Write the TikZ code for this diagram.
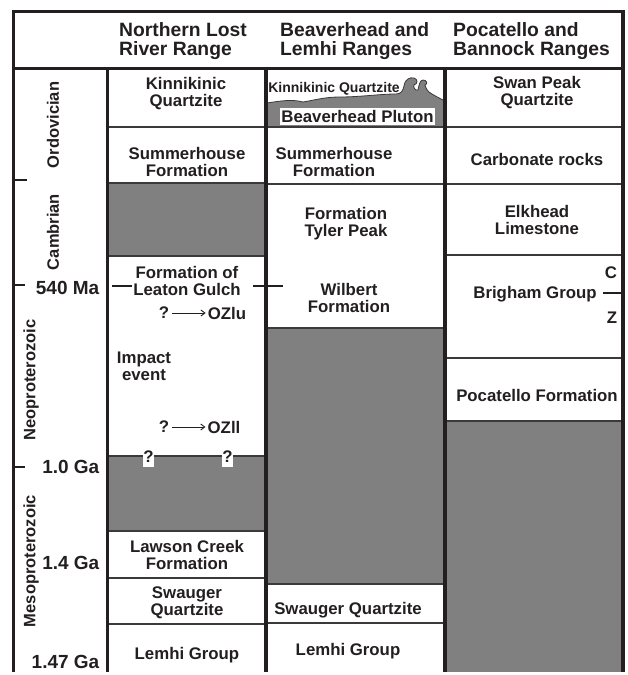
\documentclass[tikz,border=0pt]{standalone}
\usepackage{fontspec}
\setmainfont{Liberation Sans}
\usetikzlibrary{arrows.meta}
\definecolor{unitgray}{HTML}{808080}
\definecolor{ruledark}{HTML}{3A3A3A}
\definecolor{inkblack}{HTML}{231F20}

\begin{document}
\begin{tikzpicture}[x=1pt, y=-1pt, inkblack,
  unit/.style={font=\fontsize{16.8}{17}\selectfont\bfseries, align=center, inner sep=0pt},
  smallunit/.style={font=\fontsize{14}{14}\selectfont\bfseries, inner sep=0pt},
  rangehead/.style={font=\fontsize{19.3}{19.5}\selectfont\bfseries, align=left, anchor=west, inner sep=0pt},
  agelabel/.style={font=\fontsize{19}{19}\selectfont\bfseries, anchor=east, inner sep=0pt},
  periodlabel/.style={font=\fontsize{16.5}{17}\selectfont\bfseries, rotate=90, inner sep=0pt},
  frameline/.style={line width=3.3pt},
  rowline/.style={line width=1.4pt, ruledark},
  tickline/.style={line width=1.1pt},
  querybox/.style={unit, fill=white, minimum width=11pt, minimum height=20pt},
  fedto/.style={line width=0.9pt, -{Straight Barb[length=4pt, width=6pt]}, shorten <=3pt, shorten >=2pt}]

\useasboundingbox (0,0) rectangle (628,675);

\fill[unitgray] (107,183) rectangle (266,256);
\fill[unitgray] (107,456) rectangle (266,531);
\fill[unitgray] (266,328) rectangle (445,584);
\fill[unitgray] (445,421) rectangle (623,672);
\draw[rowline, line width=0.8pt, fill=unitgray] (267,103)
  .. controls (280,101) and (292,99) .. (303,102)
  .. controls (315,100) and (325,97) .. (340,97)
  .. controls (360,97) and (380,94) .. (396,94)
  .. controls (401,94) and (403,91) .. (404,86)
  .. controls (405,79) and (410,77) .. (414,78)
  .. controls (418,79) and (418,84) .. (414,85)
  .. controls (413,87) and (415,91) .. (418,90)
  .. controls (419,85) and (420,80) .. (423,80)
  .. controls (427,80) and (428,84) .. (425,85)
  .. controls (426,89) and (428,92) .. (432,94)
  .. controls (437,97) and (441,99) .. (445,101)
  -- (445,127) -- (267,127) -- cycle;

\draw[rowline] (107,127) -- (266,127);
\draw[rowline] (107,183) -- (266,183);
\draw[rowline] (107,256) -- (266,256);
\draw[rowline] (107,456) -- (266,456);
\draw[rowline] (107,531) -- (266,531);
\draw[rowline] (107,578) -- (266,578);
\draw[rowline] (107,624) -- (266,624);
\draw[rowline] (266,127) -- (445,127);
\draw[rowline] (266,184) -- (445,184);
\draw[rowline] (266,328) -- (445,328);
\draw[rowline] (266,584) -- (445,584);
\draw[rowline] (266,623) -- (445,623);
\draw[rowline] (445,127) -- (623,127);
\draw[rowline] (445,184) -- (623,184);
\draw[rowline] (445,255) -- (623,255);
\draw[rowline] (445,358) -- (623,358);
\draw[rowline] (445,421) -- (623,421);

\draw[frameline] (13.5,672) -- (13.5,11.5) -- (623,11.5) -- (623,672);
\draw[frameline] (13.5,68.5) -- (623,68.5);
\draw[frameline] (107.5,68.5) -- (107.5,672);
\draw[frameline] (266,68.5) -- (266,672);
\draw[frameline] (445,68.5) -- (445,672);

\draw[tickline] (13.5,180) -- (27,180);
\draw[tickline] (13.5,285) -- (25,285);
\draw[tickline] (13.5,467) -- (25,467);
\draw[line width=1.5pt] (112,286) -- (132,286);
\draw[line width=1.5pt] (253,286) -- (283,286);
\draw[tickline] (603,293) -- (622,293);

\draw (119, 41) node[rangehead] (northern) {Northern Lost\\River Range};
\draw (280, 41) node[rangehead] (beaverhead) {Beaverhead and\\Lemhi Ranges};
\draw (453, 41) node[rangehead] (pocatello) {Pocatello and\\Bannock Ranges};

\draw (53, 125) node[periodlabel] (ordovician) {Ordovician};
\draw (53, 232) node[periodlabel] (cambrian) {Cambrian};
\draw (31, 380) node[periodlabel] (neoproterozoic) {Neoproterozoic};
\draw (31, 561) node[periodlabel] (mesoproterozoic) {Mesoproterozoic};
\draw (99.5, 288) node[agelabel] (ma540) {540 Ma};
\draw (99.5, 467) node[agelabel] (ga10) {1.0 Ga};
\draw (99.5, 563) node[agelabel] (ga14) {1.4 Ga};
\draw (99.5, 662) node[agelabel] (ga147) {1.47 Ga};

\draw (186, 94) node[unit] (kinnikinicA) {Kinnikinic\\Quartzite};
\draw (187, 162) node[unit] (summerhouseA) {Summerhouse\\Formation};
\draw (187, 281) node[unit] (leaton) {Formation of\\Leaton Gulch};
\draw (164, 313) node[unit] (queryU) {?};
\draw (227, 313) node[unit] (ozlu) {OZlu};
\draw (144, 366) node[unit] (impact) {Impact\\event};
\draw (164, 427) node[unit] (queryL) {?};
\draw (224, 427) node[unit] (ozll) {OZll};
\draw (148.5, 457) node[querybox] (gapA) {?};
\draw (227.5, 457) node[querybox] (gapB) {?};
\draw (187, 555) node[unit] (lawson) {Lawson Creek\\Formation};
\draw (187, 603) node[unit] (swaugerA) {Swauger\\Quartzite};
\draw (187, 655) node[unit] (lemhiA) {Lemhi Group};

\draw (334, 89) node[smallunit] (kinnikinicB) {Kinnikinic Quartzite};
\draw (357.5, 116.5) node[unit, fill=white, minimum width=155pt, minimum height=17pt] (pluton) {Beaverhead Pluton};
\draw (334, 162) node[unit] (summerhouseB) {Summerhouse\\Formation};
\draw (346, 223.5) node[unit] (tyler) {Formation\\Tyler Peak};
\draw (349, 298) node[unit] (wilbert) {Wilbert\\Formation};
\draw (348, 610) node[unit] (swaugerB) {Swauger Quartzite};
\draw (348, 651) node[unit] (lemhiB) {Lemhi Group};

\draw (537, 93) node[unit] (swanpeak) {Swan Peak\\Quartzite};
\draw (537, 159) node[unit] (carbonate) {Carbonate rocks};
\draw (537, 220) node[unit] (elkhead) {Elkhead\\Limestone};
\draw (535, 294.5) node[unit] (brigham) {Brigham Group};
\draw (611, 273) node[unit] (cambrianC) {C};
\draw (612, 318) node[unit] (proterozoicZ) {Z};
\draw (537, 395) node[unit] (pocatelloF) {Pocatello Formation};

\draw[fedto] (queryU) -- (ozlu);
\draw[fedto] (queryL) -- (ozll);
\end{tikzpicture}
\end{document}
